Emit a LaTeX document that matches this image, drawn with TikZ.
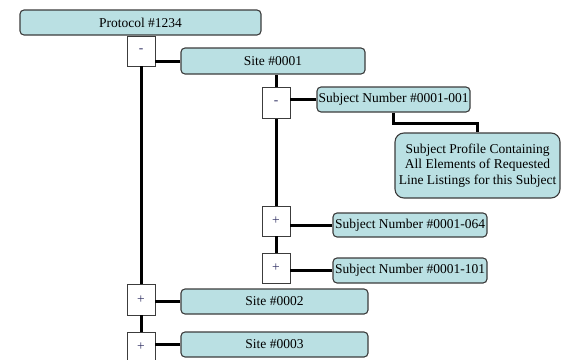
\documentclass[tikz,border=0pt]{standalone}
\usepackage{fontspec}
\setmainfont{Liberation Serif}
\usepackage{xcolor}
\usepackage{tikz}
\definecolor{boxfill}{RGB}{186,224,227}
\definecolor{boxline}{RGB}{60,60,60}
\definecolor{signcol}{RGB}{50,50,100}

\begin{document}
\begin{tikzpicture}[
  x=1pt, y=-1pt,
  every node/.style={inner sep=0pt, font=\fontsize{13.5}{15.5}\selectfont,
                     text=black},
  item/.style={draw=boxline, line width=1.1pt, rounded corners=4pt,
               fill=boxfill, align=center},
  tog/.style={draw=boxline, line width=0.9pt, fill=white,
              minimum width=28pt, minimum height=30pt, text=signcol},
  link/.style={line width=3pt, black},
]
  \useasboundingbox (0,0) rectangle (561,359);

  \node[item, minimum width=241pt, minimum height=25pt] (P) at (140.5, 22.5) {Protocol \#1234};
  \node[tog] (T1) at (141, 51) {-};
  \node[item, minimum width=184pt, minimum height=26pt] (S1) at (273, 61) {Site \#0001};
  \node[tog, minimum height=31pt] (T2) at (276, 103) {-};
  \node[item, minimum width=153pt, minimum height=25pt] (N1) at (393.5, 99.5) {Subject Number \#0001-001};
  \node[item, rounded corners=9pt, minimum width=165pt, minimum height=65pt]
       (PR) at (477.5, 165.5) {Subject Profile Containing\\All Elements of Requested\\Line Listings for this Subject};
  \node[tog] (T3) at (276, 221) {+};
  \node[item, minimum width=154pt, minimum height=24pt] (N2) at (410, 225) {Subject Number \#0001-064};
  \node[tog] (T4) at (276, 268) {+};
  \node[item, minimum width=154pt, minimum height=25pt] (N3) at (410, 270.5) {Subject Number \#0001-101};
  \node[tog, minimum height=31pt] (T5) at (141, 299.5) {+};
  \node[item, minimum width=187pt, minimum height=25pt] (S2) at (274.5, 301.5) {Site \#0002};
  \node[tog] (T6) at (141, 347) {+};
  \node[item, minimum width=187pt, minimum height=25pt] (S3) at (274.5, 344.5) {Site \#0003};

  % tree lines
  \draw[link] (T1.south) -- (T5.north);
  \draw[link] (T5.south) -- (T6.north);
  \draw[link] (S1.west) -- (S1.west -| T1.east);
  \draw[link] (S2.west) -- (S2.west -| T5.east);
  \draw[link] (S3.west) -- (S3.west -| T6.east);
  \draw[link] (T2.north) -- (T2.north |- S1.south);
  \draw[link] (T2.south) -- (T3.north);
  \draw[link] (T3.south) -- (T4.north);
  \draw[link] (N1.west) -- (N1.west -| T2.east);
  \draw[link] (N2.west) -- (N2.west -| T3.east);
  \draw[link] (N3.west) -- (N3.west -| T4.east);
  \draw[link] (N1.south) -- ++(0, 11) -| (PR.north);
\end{tikzpicture}
\end{document}
